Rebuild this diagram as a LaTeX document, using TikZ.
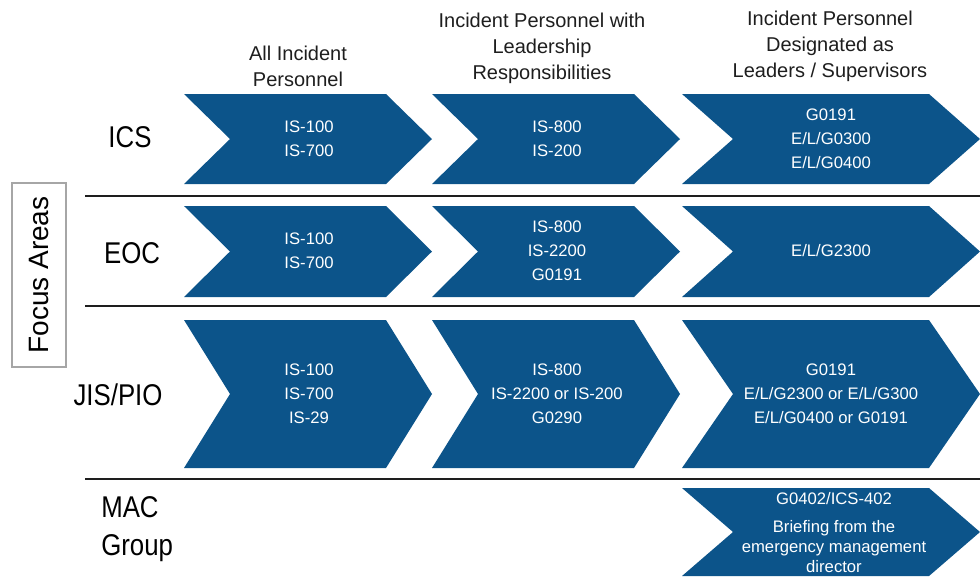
\documentclass[tikz,border=0pt]{standalone}
\usepackage{fontspec}
\setmainfont{Liberation Sans}
\newfontfamily\narrowfont[FakeStretch=0.86]{Liberation Sans}
\definecolor{chevblue}{RGB}{12,84,138}
\definecolor{inkgray}{RGB}{30,30,30}

% \chevshape{left}{tip}{depth}{top}{bottom}
\newcommand\chevshape[5]{%
  \fill[chevblue] (#1,#4) -- ({#2-#3},#4) -- (#2,{(#4+#5)/2})
    -- ({#2-#3},#5) -- (#1,#5) -- ({#1+#3},{(#4+#5)/2}) -- cycle;}

\tikzset{
  chevtext/.style={text=white, align=center, inner sep=0pt,
    font=\fontsize{12.5}{18}\selectfont},
  header/.style={text=inkgray, align=center, inner sep=0pt,
    font=\fontsize{15}{19.5}\selectfont},
  rowlabel/.style={text=black, inner sep=0pt,
    font=\narrowfont\fontsize{22.5}{28.5}\selectfont},
  sepline/.style={draw=inkgray, line width=2.2pt},
}

\begin{document}
\begin{tikzpicture}[x=0.75pt,y=-0.75pt]
\useasboundingbox (0,0) rectangle (980,576);

% column headers
\node[header] (h1) at (298,66) {All Incident\\Personnel};
\node[header] (h2) at (542,48) {Incident Personnel with\\Leadership\\Responsibilities};
\node[header] (h3) at (830,46) {Incident Personnel\\Designated as\\Leaders / Supervisors};

% focus areas box
\node[draw=gray!70, line width=1pt, rotate=90, minimum width=138pt,
  minimum height=40.5pt, inner sep=0pt, font=\fontsize{21}{25}\selectfont]
  (focus) at (39,275) {Focus Areas};

% separators
\draw[sepline] (85,196) -- (980,196);
\draw[sepline] (85,306) -- (980,306);
\draw[sepline] (85,479) -- (980,479);

% row labels
\node[rowlabel] (lics) at (130,137) {ICS};
\node[rowlabel] (leoc) at (132,253) {EOC};
\node[rowlabel] (ljis) at (118,395) {JIS/PIO};
\node[rowlabel, anchor=west, align=left] (lmac) at (101,529) {MAC\\Group};

% ICS row
\chevshape{184}{432}{46}{94}{184}
\chevshape{432}{680}{46}{94}{184}
\chevshape{682}{980}{51}{94}{184}
\node[chevtext] (ics1) at (309,139) {IS-100\\IS-700};
\node[chevtext] (ics2) at (557,139) {IS-800\\IS-200};
\node[chevtext] (ics3) at (831,139) {G0191\\E/L/G0300\\E/L/G0400};

% EOC row
\chevshape{184}{432}{46}{206}{297}
\chevshape{432}{680}{46}{206}{297}
\chevshape{682}{980}{51}{206}{297}
\node[chevtext] (eoc1) at (309,251) {IS-100\\IS-700};
\node[chevtext] (eoc2) at (557,251) {IS-800\\IS-2200\\G0191};
\node[chevtext] (eoc3) at (831,251) {E/L/G2300};

% JIS/PIO row
\chevshape{184}{432}{46}{320}{468}
\chevshape{432}{680}{46}{320}{468}
\chevshape{682}{980}{51}{320}{468}
\node[chevtext] (jis1) at (309,394) {IS-100\\IS-700\\IS-29};
\node[chevtext] (jis2) at (557,394) {IS-800\\IS-2200 or IS-200\\G0290};
\node[chevtext] (jis3) at (831,394) {G0191\\E/L/G2300 or E/L/G300\\E/L/G0400 or G0191};

% MAC Group row
\chevshape{682}{980}{51}{488}{576}
\node[chevtext, font=\fontsize{12.5}{15}\selectfont] (mac3) at (834,533)
  {G0402/ICS-402\\[6pt]Briefing from the\\emergency management\\director};
\end{tikzpicture}
\end{document}
